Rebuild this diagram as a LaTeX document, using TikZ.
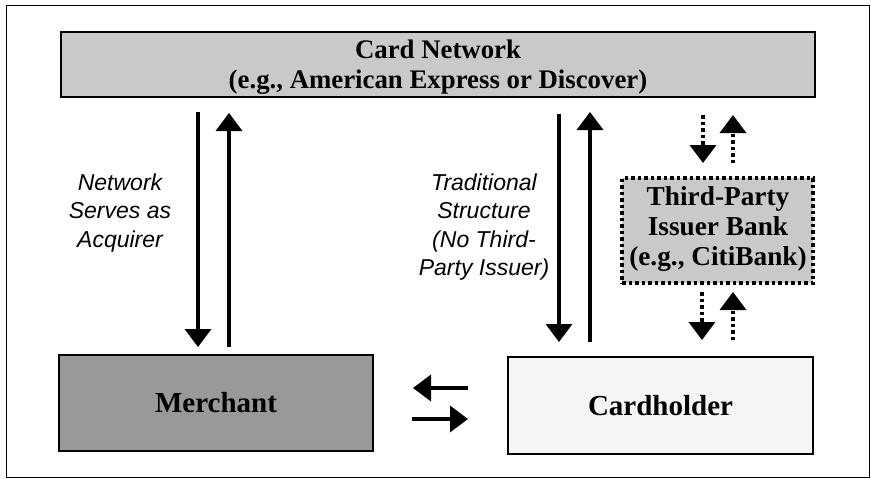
\documentclass[tikz,border=0pt]{standalone}
\usepackage{fontspec}
\setmainfont{Liberation Serif}
\setsansfont{Liberation Sans}
\usetikzlibrary{arrows.meta}
\definecolor{netgray}{gray}{0.79}
\definecolor{mergray}{gray}{0.60}
\definecolor{cardwhite}{gray}{0.96}
\tikzset{
  boxtext/.style={font=\fontsize{29}{30}\selectfont\bfseries, align=center, inner sep=0pt},
  tptext/.style={font=\fontsize{27.3}{30}\selectfont\bfseries, align=center, inner sep=0pt},
  nettext/.style={font=\fontsize{26.8}{30}\selectfont\bfseries, align=center, inner sep=0pt},
  lbl/.style={font=\fontsize{23}{28.5}\selectfont\sffamily\itshape, align=center, inner sep=0pt},
  arr/.style={line width=3.5pt, -{Triangle[width=26pt,length=18pt]}},
  darr/.style={line width=3.5pt, dash pattern=on 3.5pt off 3pt, -{Triangle[width=26pt,length=18pt]}},
}
\begin{document}
\begin{tikzpicture}[x=1pt,y=-1pt]
\useasboundingbox (0,0) rectangle (871,479);
\draw[line width=1pt] (6,5) rectangle (869,477);
\node[draw, line width=2pt, fill=netgray, minimum width=754pt, minimum height=65pt] (net) at (438,64.5) {};
\node[nettext] (nett) at (438,67.5) {Card Network\\(e.g., American Express or Discover)};
\node[boxtext, draw, line width=2pt, fill=mergray, minimum width=314pt, minimum height=96pt] (merch) at (216,403) {Merchant};
\node[boxtext, draw, line width=1.6pt, fill=cardwhite, minimum width=305pt, minimum height=97pt] (card) at (660.5,405.5) {Cardholder};
\node[draw, line width=3.5pt, dash pattern=on 3.5pt off 3pt, fill=netgray, minimum width=191pt, minimum height=105pt] (tp) at (717.5,230.5) {};
\node[tptext] (tpt) at (718,229) {Third-Party\\Issuer Bank\\(e.g., CitiBank)};
\node[lbl] (lnet) at (120,213) {Network\\Serves as\\Acquirer};
\node[lbl] (ltrad) at (484,227) {Traditional\\Structure\\(No Third-\\Party Issuer)};
% left pair
\coordinate (a1s) at (198,112); \coordinate (a1e) at (198,347);
\coordinate (a2s) at (229,347); \coordinate (a2e) at (229,113);
\draw[arr] (a1s) -- (a1e);
\draw[arr] (a2s) -- (a2e);
% middle pair
\coordinate (b1s) at (559,114); \coordinate (b1e) at (559,342);
\coordinate (b2s) at (590,342); \coordinate (b2e) at (590,112);
\draw[arr] (b1s) -- (b1e);
\draw[arr] (b2s) -- (b2e);
% dotted top
\coordinate (c1s) at (703,115); \coordinate (c1e) at (703,163);
\coordinate (c2s) at (733,163); \coordinate (c2e) at (733,115);
\draw[darr] (c1s) -- (c1e);
\draw[darr] (c2s) -- (c2e);
% dotted bottom
\coordinate (d1s) at (702,292); \coordinate (d1e) at (702,340);
\coordinate (d2s) at (733,340); \coordinate (d2e) at (733,292);
\draw[darr] (d1s) -- (d1e);
\draw[darr] (d2s) -- (d2e);
% horizontal
\coordinate (h1s) at (468,388); \coordinate (h1e) at (413,388);
\coordinate (h2s) at (412,419); \coordinate (h2e) at (468,419);
\draw[arr] (h1s) -- (h1e);
\draw[arr] (h2s) -- (h2e);
\end{tikzpicture}
\end{document}
